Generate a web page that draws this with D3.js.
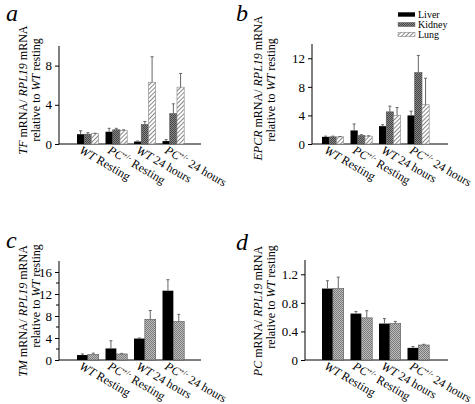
<!DOCTYPE html>
<html><head><meta charset="utf-8">
<script src="https://cdn.jsdelivr.net/npm/d3@7"></script>
<style>
body{margin:0;background:#fff;}
text{font-family:"Liberation Serif","Times New Roman",serif;fill:#000;}
</style></head>
<body><svg id="chart" width="475" height="404"></svg>
<script>
// ---- data ----
const groups = ["WT Resting", "PC Resting", "WT 24 hours", "PC 24 hours"];
const seriesNames = ["Liver", "Kidney", "Lung"];

const tfLiver = [1.0, 1.25, 0.25, 0.3];
const tfLiverErr = [1.35, 1.6, 0.3, 0.45];
const tfKidney = [1.0, 1.45, 2.0, 3.1];
const tfKidneyErr = [1.15, 1.6, 2.3, 4.1];
const tfLung = [1.05, 1.4, 6.3, 5.8];
const tfLungErr = [1.1, 1.45, 8.9, 7.2];

const epcrLiver = [1.0, 1.9, 2.5, 4.0];
const epcrLiverErr = [1.1, 2.8, 2.7, 4.6];
const epcrKidney = [1.0, 1.2, 4.5, 10.0];
const epcrKidneyErr = [1.1, 1.3, 5.3, 12.4];
const epcrLung = [1.0, 1.1, 4.0, 5.5];
const epcrLungErr = [1.05, 1.15, 5.1, 9.2];

const tmLiver = [0.9, 2.1, 3.9, 12.6];
const tmLiverErr = [1.1, 3.5, 4.0, 14.6];
const tmKidney = [1.0, 1.1, 7.4, 7.0];
const tmKidneyErr = [1.25, 1.2, 9.0, 8.3];

const pcLiver = [1.0, 0.65, 0.51, 0.17];
const pcLiverErr = [1.11, 0.68, 0.58, 0.19];
const pcKidney = [1.0, 0.59, 0.51, 0.21];
const pcKidneyErr = [1.16, 0.69, 0.54, 0.22];

const tfTicks = [0, 4, 8];
const epcrTicks = [0, 4, 8, 12];
const tmTicks = [0, 4, 8, 12, 16];
const pcTicks = [0, 0.4, 0.8, 1.2];

// ---- drawing ----
const svg = d3.select("#chart");
const defs = svg.append("defs");

function stipple(id, bg, dot) {
  const p = defs.append("pattern").attr("id", id).attr("patternUnits", "userSpaceOnUse")
    .attr("width", 2).attr("height", 2);
  p.append("rect").attr("width", 2).attr("height", 2).attr("fill", bg);
  p.append("rect").attr("width", 1).attr("height", 1).attr("fill", dot);
  p.append("rect").attr("x", 1).attr("y", 1).attr("width", 1).attr("height", 1).attr("fill", dot);
}
stipple("kidDark", "#888", "#444");
stipple("kidLight", "#bdbdbd", "#7a7a7a");
const hatch = defs.append("pattern").attr("id", "lungHatch").attr("patternUnits", "userSpaceOnUse")
  .attr("width", 3).attr("height", 3).attr("patternTransform", "rotate(45)");
hatch.append("rect").attr("width", 3).attr("height", 3).attr("fill", "#fff");
hatch.append("line").attr("x1", 0.5).attr("y1", 0).attr("x2", 0.5).attr("y2", 3)
  .attr("stroke", "#8a8a8a").attr("stroke-width", 1);

const panels = [
  {letter: "a", lx: 6, ly: 21, gene: "TF", x0: 59, x1: 201, y0: 144, y1: 46, max: 10, ticks: tfTicks, minor: [],
   bandStart: 77, fmt: d3.format("d"),
   series: [{v: tfLiver, e: tfLiverErr, fill: "#000"}, {v: tfKidney, e: tfKidneyErr, fill: "url(#kidDark)"}, {v: tfLung, e: tfLungErr, fill: "url(#lungHatch)"}],
   t1x: 27, t2x: 40, t1y: 90, t2y: 90},
  {letter: "b", lx: 236, ly: 21, gene: "EPCR", x0: 312, x1: 448, y0: 144, y1: 44, max: 14, ticks: epcrTicks, minor: [],
   bandStart: 322, fmt: d3.format("d"),
   series: [{v: epcrLiver, e: epcrLiverErr, fill: "#000"}, {v: epcrKidney, e: epcrKidneyErr, fill: "url(#kidDark)"}, {v: epcrLung, e: epcrLungErr, fill: "url(#lungHatch)"}],
   t1x: 262, t2x: 275, t1y: 88, t2y: 90},
  {letter: "c", lx: 6, ly: 248, gene: "TM", x0: 59, x1: 201, y0: 360, y1: 261, max: 18, ticks: tmTicks, minor: [2, 6, 10, 14],
   bandStart: 77, fmt: d3.format("d"),
   series: [{v: tmLiver, e: tmLiverErr, fill: "#000"}, {v: tmKidney, e: tmKidneyErr, fill: "url(#kidLight)"}],
   t1x: 27, t2x: 40, t1y: 311, t2y: 296},
  {letter: "d", lx: 236, ly: 250, gene: "PC", x0: 305, x1: 448, y0: 360, y1: 260, max: 1.4, ticks: pcTicks, minor: [],
   bandStart: 322, fmt: d => d === 0 ? "0" : d3.format(".1f")(d),
   series: [{v: pcLiver, e: pcLiverErr, fill: "#000"}, {v: pcKidney, e: pcKidneyErr, fill: "url(#kidLight)"}],
   t1x: 262, t2x: 275, t1y: 311, t2y: 297}
];

const step = 28.5, groupW = 21.7;

panels.forEach(p => {
  const g = svg.append("g");
  g.append("text").attr("x", p.lx).attr("y", p.ly).attr("font-size", 24).attr("font-style", "italic").text(p.letter);

  const y = d3.scaleLinear().domain([0, p.max]).range([p.y0, p.y1]);
  const pad = (step - groupW) / step;
  const x = d3.scaleBand().domain(groups)
    .range([p.bandStart - pad / 2 * step, p.bandStart - pad / 2 * step + 4 * step])
    .paddingInner(pad).paddingOuter(pad / 2);
  const xs = d3.scaleBand().domain(d3.range(p.series.length)).range([0, x.bandwidth()]);

  // y axis
  const ax = d3.axisLeft(y).tickValues(p.ticks).tickFormat(p.fmt).tickSize(4).tickPadding(3);
  const ag = g.append("g").attr("transform", `translate(${p.x0},0)`).call(ax);
  ag.attr("font-family", null);
  ag.select(".domain").attr("d", `M0,${p.y0}V${p.y1}`).attr("stroke", "#000");
  ag.selectAll("text").attr("font-size", 13);
  ag.selectAll(".tick line").attr("stroke", "#000");
  g.selectAll(".minor").data(p.minor).join("line")
    .attr("x1", p.x0 - 3).attr("x2", p.x0).attr("y1", d => y(d)).attr("y2", d => y(d)).attr("stroke", "#000");
  // x axis line
  g.append("line").attr("x1", p.x0).attr("x2", p.x1).attr("y1", p.y0).attr("y2", p.y0).attr("stroke", "#000");

  // bars
  p.series.forEach((s, si) => {
    const sg = g.append("g");
    sg.selectAll("rect").data(groups).join("rect")
      .attr("x", d => x(d) + xs(si)).attr("width", xs.bandwidth())
      .attr("y", (d, i) => y(s.v[i])).attr("height", (d, i) => p.y0 - y(s.v[i]))
      .attr("fill", s.fill)
      .attr("stroke", si === 0 ? "none" : (si === 1 ? "#555" : "#888")).attr("stroke-width", 0.6);
    const eg = sg.append("g").attr("stroke", "#666").attr("stroke-width", 1);
    groups.forEach((d, i) => {
      const cx = x(d) + xs(si) + xs.bandwidth() / 2;
      eg.append("line").attr("x1", cx).attr("x2", cx).attr("y1", y(s.v[i])).attr("y2", y(s.e[i]));
      eg.append("line").attr("x1", cx - 1.5).attr("x2", cx + 1.5).attr("y1", y(s.e[i])).attr("y2", y(s.e[i]));
    });
  });

  // x labels
  groups.forEach(d => {
    const cx = x(d) + x.bandwidth() / 2;
    const t = g.append("text").attr("font-size", 12)
      .attr("transform", `translate(${cx - 5},${p.y0 + 1}) rotate(30)`).attr("dy", "0.72em");
    const parts = d.split(" ");
    t.append("tspan").attr("font-style", "italic").text(parts[0]);
    if (parts[0] === "PC") t.append("tspan").attr("font-size", 7.5).attr("dy", -4.5).text("+/-");
    t.append("tspan").attr("dy", parts[0] === "PC" ? 4.5 : null).text(" " + parts.slice(1).join(" "));
  });

  // y titles
  const t1 = g.append("text").attr("font-size", 12).attr("text-anchor", "middle")
    .attr("transform", `translate(${p.t1x},${p.t1y}) rotate(-90)`);
  t1.append("tspan").attr("font-style", "italic").text(p.gene);
  t1.append("tspan").text(" mRNA/ ");
  t1.append("tspan").attr("font-style", "italic").text("RPL19");
  t1.append("tspan").text(" mRNA");
  const t2 = g.append("text").attr("font-size", 12).attr("text-anchor", "middle")
    .attr("transform", `translate(${p.t2x},${p.t2y}) rotate(-90)`);
  t2.append("tspan").text("relative to ");
  t2.append("tspan").attr("font-style", "italic").text("WT");
  t2.append("tspan").text(" resting");
});

// legend (panel b)
const legend = svg.append("g");
const legFills = ["#000", "url(#kidDark)", "url(#lungHatch)"];
seriesNames.forEach((n, i) => {
  const yy = 14.5 + i * 10;
  legend.append("rect").attr("x", 398).attr("y", yy - 2.2).attr("width", 17).attr("height", 4.4)
    .attr("fill", legFills[i]).attr("stroke", i === 0 ? "none" : "#777").attr("stroke-width", 0.5);
  legend.append("text").attr("x", 418).attr("y", yy + 3.3).attr("font-size", 10).text(n);
});
</script></body></html>
